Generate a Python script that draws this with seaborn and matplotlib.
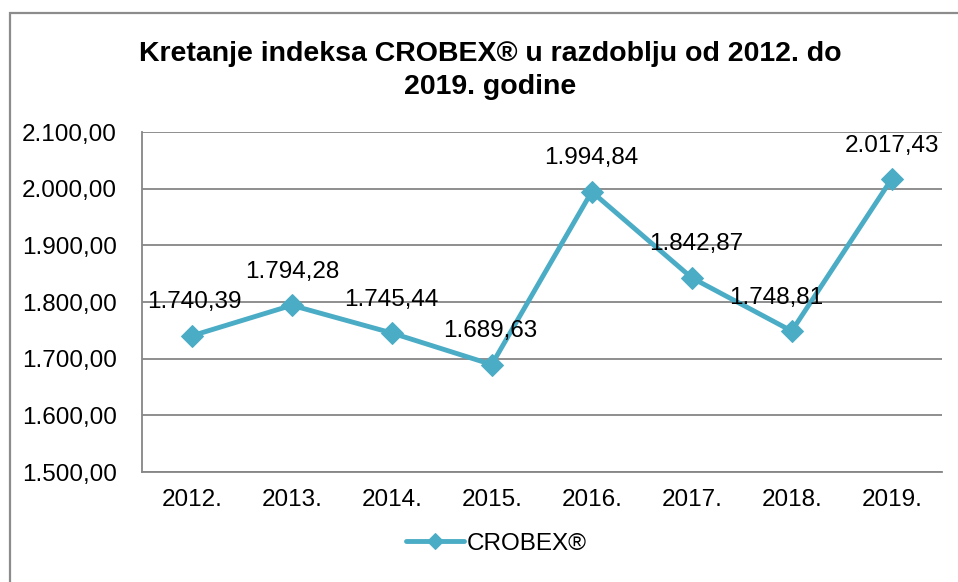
import matplotlib
matplotlib.use("Agg")
import matplotlib.pyplot as plt
import seaborn as sns
import pandas as pd
from matplotlib.patches import Rectangle

# -----------------------------------------
# Data
# -----------------------------------------

years = ["2012.", "2013.", "2014.", "2015.", "2016.", "2017.", "2018.", "2019."]
crobex = [1740.39, 1794.28, 1745.44, 1689.63, 1994.84, 1842.87, 1748.81, 2017.43]
y_ticks = [1500, 1600, 1700, 1800, 1900, 2000, 2100]


def hr_fmt(v):
    # 1.740,39 style number
    s = f"{v:,.2f}"
    return s.replace(",", "X").replace(".", ",").replace("X", ".")


df = pd.DataFrame({"pos": range(len(years)), "value": crobex})

sns.set_style("white")
plt.rcParams["font.family"] = ["Liberation Sans", "DejaVu Sans"]
plt.rcParams["text.color"] = "black"
plt.rcParams["xtick.color"] = "black"
plt.rcParams["ytick.color"] = "black"

blue = "#4BACC6"
grid_gray = "#868686"

fig = plt.figure(figsize=(9.58, 5.82), dpi=100)
ax = fig.add_axes([0.148, 0.189, 0.835, 0.584])

sns.lineplot(data=df, x="pos", y="value", ax=ax, color=blue, linewidth=3.5,
             marker="D", markersize=11, markeredgecolor=blue,
             label="CROBEX®")

ax.set_xlim(-0.5, len(years) - 0.5)
ax.set_ylim(y_ticks[0], y_ticks[-1])
ax.set_xticks(range(len(years)))
ax.set_xticklabels(years)
ax.set_yticks(y_ticks)
ax.set_yticklabels([hr_fmt(t) for t in y_ticks])
ax.tick_params(axis="x", labelsize=17.5, length=0, pad=12)
ax.tick_params(axis="y", labelsize=17.5, length=0, pad=18)
ax.set_xlabel("")
ax.set_ylabel("")

ax.yaxis.grid(True, color=grid_gray, linewidth=1.3)
ax.set_axisbelow(True)
for side in ["top", "right"]:
    ax.spines[side].set_visible(False)
for side in ["left", "bottom"]:
    ax.spines[side].set_color(grid_gray)
    ax.spines[side].set_linewidth(1.3)

# data labels above points
shift = [2, 0, 0, -1, 0, 3, -11, 0]
for i, v in enumerate(crobex):
    ax.annotate(hr_fmt(v), (i, v), xytext=(shift[i], 24), textcoords="offset points",
                ha="center", va="center", fontsize=17.5, color="black")

# legend
ax.legend(loc="upper center", bbox_to_anchor=(0.443, -0.115), frameon=False,
          fontsize=17.5, handlelength=2.4, handletextpad=0.1, markerscale=0.75)

fig.suptitle("Kretanje indeksa CROBEX® u razdoblju od 2012. do\n2019. godine",
             x=0.512, y=0.93, fontsize=20.5, fontweight="bold", linespacing=1.35)

# outer chart frame (goes off the right and bottom edges)
fig.patches.append(Rectangle((10 / 958, -0.05), 1.05, 1 - 13 / 582 + 0.05,
                             transform=fig.transFigure, fill=False,
                             edgecolor="#8c8c8c", linewidth=1.6))

fig.savefig("out.png", dpi=100)
